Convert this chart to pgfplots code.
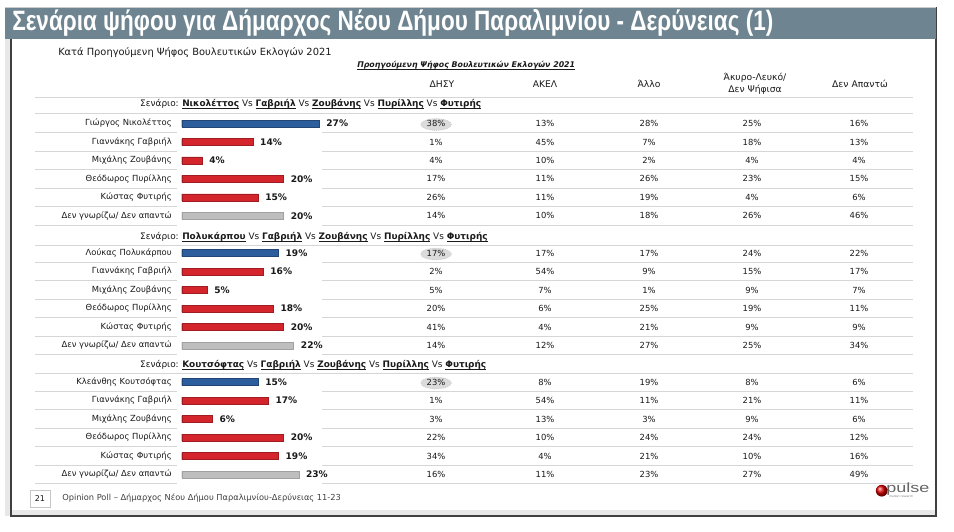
\documentclass[border=0pt]{standalone}
\usepackage{pgfplots}
\pgfplotsset{compat=1.18}
\usepackage{pgfplotstable}
\usepackage{fontspec}
\setmainfont{DejaVu Sans}
\newfontfamily\titlefont{Liberation Sans}[FakeStretch=0.805]
\newfontfamily\logofont{Liberation Sans}[FakeStretch=1.35]

\definecolor{titlebar}{HTML}{6E8591}
\definecolor{barblue}{HTML}{2C5E9E}
\definecolor{barred}{HTML}{D4252D}
\definecolor{bargray}{HTML}{BEBEBE}
\definecolor{rulegray}{HTML}{D6D6D6}
\definecolor{ink}{HTML}{1A1A1A}

% bars: row centre (px from top) and share (%)
\pgfplotstableread{
y v
123.5 27
253.0 19
382.0 15
}\bluebars
\pgfplotstableread{
y v
142.0 14
160.4 4
178.9 20
197.3 15
271.5 16
290.0 5
308.5 18
327.0 20
400.5 17
419.0 6
437.5 20
456.0 19
}\redbars
\pgfplotstableread{
y v
215.8 20
345.5 22
474.5 23
}\graybars

% by previous vote: DHSY AKEL Allo Akyro DenApanto
\pgfplotstableread{
y dhsy akel allo akyro denap
123.5 38 13 28 25 16
142.0 1 45 7 18 13
160.4 4 10 2 4 4
178.9 17 11 26 23 15
197.3 26 11 19 4 6
215.8 14 10 18 26 46
253.0 17 17 17 24 22
271.5 2 54 9 15 17
290.0 5 7 1 9 7
308.5 20 6 25 19 11
327.0 41 4 21 9 9
345.5 14 12 27 25 34
382.0 23 8 19 8 6
400.5 1 54 11 21 11
419.0 3 13 3 9 6
437.5 22 10 24 24 12
456.0 34 4 21 10 16
474.5 16 11 23 27 49
}\breakdown

\newcommand\dk{Δεν γνωρίζω/ Δεν απαντώ}
\newcommand\fs[1]{\fontsize{#1}{#1}\selectfont}
\newcommand\uline[1]{\setbox0\hbox{#1}\rlap{\rule[-1.3pt]{\wd0}{0.35pt}}\box0}

\begin{document}
\begin{tikzpicture}[x=0.75pt,y=-0.75pt,every node/.style={text=ink}]
\useasboundingbox (0,0) rectangle (954,532);
% frame
\fill[gray!18] (5,39) rectangle (936,516);
\fill[white] (11,39) rectangle (936,510);
\draw[black!75,line width=0.8pt] (11,39) -- (11,516) -- (936,516) -- (936,7);
\fill[titlebar] (5,7) rectangle (936,39);
\draw[gray!40,line width=0.6pt] (5,7) -- (936,7);
\node[anchor=west,text=white,inner sep=0pt,font=\titlefont\bfseries\fs{21}] at (12,23)
  {Σενάρια ψήφου για Δήμαρχος Νέου Δήμου Παραλιμνίου - Δερύνειας (1)};

% headings
\node[anchor=west,inner sep=0pt,font=\fs{7.4}] at (58,52.5)
  {Κατά Προηγούμενη Ψήφος Βουλευτικών Εκλογών 2021};
\node[anchor=west,inner sep=0pt,font=\bfseries\itshape\fs{5.9}] at (357,65)
  {\uline{Προηγούμενη Ψήφος Βουλευτικών Εκλογών 2021}};
\begin{scope}[every node/.style={text=ink,font=\fs{6.9},align=center,inner sep=0pt}]
\node at (442,84) {ΔΗΣΥ};
\node at (545,84) {ΑΚΕΛ};
\node at (649,84) {Άλλο};
\node at (755,83.5) {Άκυρο-Λευκό/\\[1pt]Δεν Ψήφισα};
\node at (860,84) {Δεν Απαντώ};
\end{scope}

% rules
\foreach \yy in {97,113.7,245.2,373.7}
  \draw[rulegray,line width=0.5pt] (35,\yy) -- (913,\yy);
\foreach \yy in {132.7,151.2,169.6,188.1,206.5,225,262.2,280.7,299.2,317.7,336.2,354.7,391.2,409.7,428.2,446.7,465.2,483.7}{
  \draw[rulegray,line width=0.5pt] (35,\yy) -- (177,\yy);
  \draw[rulegray,line width=0.5pt] (322,\yy) -- (913,\yy);
}

% scenario headers
\begin{scope}[every node/.style={text=ink,font=\fs{6.7},inner sep=0pt,text height=5.1pt,text depth=1.6pt}]
\node[anchor=east] at (179,104) {Σενάριο:};
\node[anchor=west] at (182,104) {\textbf{\uline{Νικολέττος}} Vs \textbf{\uline{Γαβριήλ}} Vs \textbf{\uline{Ζουβάνης}} Vs \textbf{\uline{Πυρίλλης}} Vs \textbf{\uline{Φυτιρής}}};
\node[anchor=east] at (179,237.5) {Σενάριο:};
\node[anchor=west] at (182,237.5) {\textbf{\uline{Πολυκάρπου}} Vs \textbf{\uline{Γαβριήλ}} Vs \textbf{\uline{Ζουβάνης}} Vs \textbf{\uline{Πυρίλλης}} Vs \textbf{\uline{Φυτιρής}}};
\node[anchor=east] at (179,365.5) {Σενάριο:};
\node[anchor=west] at (182,365.5) {\textbf{\uline{Κουτσόφτας}} Vs \textbf{\uline{Γαβριήλ}} Vs \textbf{\uline{Ζουβάνης}} Vs \textbf{\uline{Πυρίλλης}} Vs \textbf{\uline{Φυτιρής}}};
\end{scope}

% row names
\begin{scope}[every node/.style={text=ink,font=\fs{6.3},inner sep=0pt,anchor=east,text height=4.7pt,text depth=1.4pt}]
\foreach \yy/\nm in {123.5/Γιώργος Νικολέττος,142/Γιαννάκης Γαβριήλ,160.4/Μιχάλης Ζουβάνης,178.9/Θεόδωρος Πυρίλλης,197.3/Κώστας Φυτιρής,215.8/\dk,
  253/Λούκας Πολυκάρπου,271.5/Γιαννάκης Γαβριήλ,290/Μιχάλης Ζουβάνης,308.5/Θεόδωρος Πυρίλλης,327/Κώστας Φυτιρής,345.5/\dk,
  382/Κλεάνθης Κουτσόφτας,400.5/Γιαννάκης Γαβριήλ,419/Μιχάλης Ζουβάνης,437.5/Θεόδωρος Πυρίλλης,456/Κώστας Φυτιρής,474.5/\dk}
  \node at (172,\yy) {\nm};
\end{scope}

% highlight of the DHSY share of the scenario's candidate
\foreach \yy in {123.5,253,382}{
  \fill[gray!28] (436,\yy+1) ellipse (11.5pt and 4.4pt);
  \draw[gray!55,densely dotted,line width=0.4pt] (436,\yy+1) ellipse (11.5pt and 4.4pt);
}

% footer
\draw[gray!45,line width=0.4pt] (30,490) rectangle (50,507);
\node[font=\fs{6},inner sep=0pt] at (40,498.5) {21};
\node[anchor=west,font=\fs{6.2},inner sep=0pt,text=black!75] at (62,498.5)
  {Opinion Poll – Δήμαρχος Νέου Δήμου Παραλιμνίου-Δερύνειας 11-23};
% logo
\shade[ball color=red!85!black] (881.7,490.7) circle (4.4pt);
\node[anchor=west,inner sep=0pt,text=black!60,font=\logofont\fs{10}] at (886,489) {pulse};
\node[anchor=west,inner sep=0pt,text=black!50,font=\fs{2.2}] at (889,496.5) {market research};

% table of shares by previous vote
\begin{axis}[at={(0,0)},anchor=north west,scale only axis,width=715.5pt,height=399pt,
  xmin=0,xmax=954,ymin=0,ymax=532,y dir=reverse,hide axis,clip=false,
  /pgf/number format/assume math mode=true,
  point meta=explicit,
  nodes near coords={\pgfmathprintnumber{\pgfplotspointmeta}\%},
  nodes near coords style={anchor=center,inner sep=0pt,font=\fs{6.3},text=ink}]
\addplot[draw=none,mark=none] table[x expr=436,y=y,meta=dhsy] {\breakdown};
\addplot[draw=none,mark=none] table[x expr=545,y=y,meta=akel] {\breakdown};
\addplot[draw=none,mark=none] table[x expr=649,y=y,meta=allo] {\breakdown};
\addplot[draw=none,mark=none] table[x expr=752,y=y,meta=akyro] {\breakdown};
\addplot[draw=none,mark=none] table[x expr=859,y=y,meta=denap] {\breakdown};
\end{axis}

% bars
\begin{axis}[at={(0,0)},anchor=north west,scale only axis,width=715.5pt,height=399pt,
  xmin=-35.70,xmax=151.73,ymin=0,ymax=532,y dir=reverse,hide axis,clip=false,
  /pgf/number format/assume math mode=true,
  xbar,bar width=7,bar shift=0pt,
  nodes near coords={\pgfmathprintnumber{\pgfplotspointmeta}\%},
  nodes near coords style={anchor=west,inner sep=0pt,xshift=5.3pt,font=\bfseries\fs{6.8},text=ink}]
\addplot[fill=barblue,draw=barblue!75!black,line width=0.3pt] table[x=v,y=y] {\bluebars};
\addplot[fill=barred,draw=barred!75!black,line width=0.3pt] table[x=v,y=y] {\redbars};
\addplot[fill=bargray,draw=bargray!85!black,line width=0.3pt] table[x=v,y=y] {\graybars};
\end{axis}
\end{tikzpicture}
\end{document}
